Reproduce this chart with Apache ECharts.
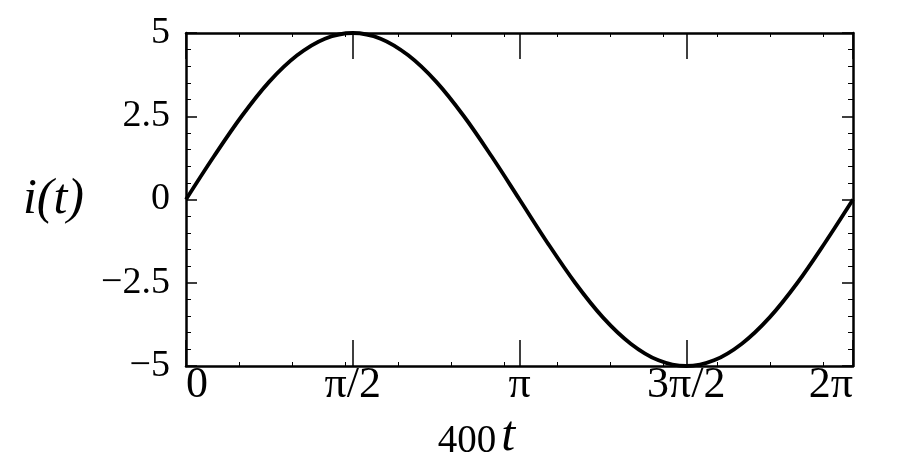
<!DOCTYPE html>
<html>
<head>
<meta charset="utf-8">
<script src="https://cdn.jsdelivr.net/npm/echarts@6/dist/echarts.min.js"></script>
<style>
html,body{margin:0;padding:0;background:#fff;overflow:hidden;}
#c{width:900px;height:453px;}
</style>
</head>
<body>
<div id="c"></div>
<script>
// x positions in radians (400 t) and values of i(t)
const tValues = [0, 0.262, 0.524, 0.785, 1.047, 1.309, 1.571, 1.833, 2.094, 2.356, 2.618, 2.880, 3.142,
  3.403, 3.665, 3.927, 4.189, 4.451, 4.712, 4.974, 5.236, 5.498, 5.760, 6.021, 6.283];
const iValues = [0, 1.29, 2.5, 3.54, 4.33, 4.83, 5, 4.83, 4.33, 3.54, 2.5, 1.29, 0,
  -1.29, -2.5, -3.54, -4.33, -4.83, -5, -4.83, -4.33, -3.54, -2.5, -1.29, 0];
const xTickValues = [0, Math.PI / 2, Math.PI, 3 * Math.PI / 2, 2 * Math.PI];
const xTickLabels = ['0', 'π/2', 'π', '3π/2', '2π'];
const xMinorTicks = [0.5, 1, 1.5, 2, 2.5, 3, 3.5, 4, 4.5, 5, 5.5, 6];
const yTicks = [-5, -2.5, 0, 2.5, 5];

const FONT = 'Liberation Serif';
const chart = echarts.init(document.getElementById('c'), null, {renderer: 'canvas', width: 900, height: 453});

function xLabel(v) {
  let best = 0;
  for (let k = 0; k < xTickValues.length; k++) {
    if (Math.abs(xTickValues[k] - v) < Math.abs(xTickValues[best] - v)) best = k;
  }
  return xTickLabels[best];
}
const baseX = {type: 'value', min: 0, max: 2 * Math.PI, splitLine: {show: false}};

chart.setOption({
  animation: false,
  backgroundColor: '#fff',
  grid: {left: 186, width: 667, top: 33, height: 333, containLabel: false, outerBoundsMode: 'none'},
  xAxis: [
    Object.assign({}, baseX, {
      position: 'bottom',
      axisLine: {show: true, onZero: false, lineStyle: {color: '#000', width: 2.5}},
      axisTick: {show: true, inside: true, length: 26, customValues: xTickValues, lineStyle: {color: '#000', width: 1.5}},
      axisLabel: {show: true, customValues: xTickValues, formatter: xLabel, margin: -3,
        fontFamily: FONT, fontSize: 44, color: '#000', alignMinLabel: 'left', alignMaxLabel: 'right'},
      name: '{a|400}{b|t}',
      nameLocation: 'middle',
      nameGap: 18,
      nameTextStyle: {
        padding: [0, 86, 0, 0],
        rich: {
          a: {fontFamily: FONT, fontSize: 39, color: '#000', padding: [0, 5, 2, 0]},
          b: {fontFamily: FONT, fontSize: 50, fontStyle: 'italic', color: '#000', padding: [0, 0, 12, 0]}
        }
      }
    }),
    Object.assign({}, baseX, {
      position: 'top',
      axisLine: {show: true, onZero: false, lineStyle: {color: '#000', width: 2.5}},
      axisTick: {show: true, inside: true, length: 26, customValues: xTickValues, lineStyle: {color: '#000', width: 1.5}},
      axisLabel: {show: false}
    }),
    Object.assign({}, baseX, {
      position: 'bottom',
      axisLine: {show: false, onZero: false},
      axisTick: {show: true, inside: true, length: 4, customValues: xMinorTicks, lineStyle: {color: '#000', width: 1}},
      axisLabel: {show: false}
    }),
    Object.assign({}, baseX, {
      position: 'top',
      axisLine: {show: false, onZero: false},
      axisTick: {show: true, inside: true, length: 4, customValues: xMinorTicks, lineStyle: {color: '#000', width: 1}},
      axisLabel: {show: false}
    })
  ],
  yAxis: [
    {
      type: 'value', min: -5, max: 5, interval: 2.5, position: 'left',
      splitLine: {show: false},
      axisLine: {show: true, onZero: false, lineStyle: {color: '#000', width: 2.5}},
      axisTick: {show: true, inside: true, length: 11, lineStyle: {color: '#000', width: 1.5}},
      minorTick: {show: true, splitNumber: 5, length: 5, lineStyle: {color: '#000', width: 1}},
      axisLabel: {show: true, margin: 16, fontFamily: FONT, fontSize: 38, color: '#000',
        customValues: yTicks,
        formatter: v => String(v).replace('-', '\u2212')},
      name: 'i(t)',
      nameLocation: 'middle',
      nameRotate: 0,
      nameGap: 102,
      nameTextStyle: {fontFamily: FONT, fontSize: 50, fontStyle: 'italic', color: '#000', padding: [58, 0, 0, 0]}
    },
    {
      type: 'value', min: -5, max: 5, interval: 2.5, position: 'right',
      splitLine: {show: false},
      axisLine: {show: true, onZero: false, lineStyle: {color: '#000', width: 2.5}},
      axisTick: {show: true, inside: true, length: 11, lineStyle: {color: '#000', width: 1.5}},
      minorTick: {show: true, splitNumber: 5, length: 5, lineStyle: {color: '#000', width: 1}},
      axisLabel: {show: false}
    }
  ],
  series: [{
    type: 'line', xAxisIndex: 0, yAxisIndex: 0,
    data: tValues.map((t, k) => [t, iValues[k]]),
    smooth: 0.35, showSymbol: false, symbol: 'none', clip: false,
    lineStyle: {color: '#000', width: 3.8}
  }]
});
</script>
</body>
</html>
